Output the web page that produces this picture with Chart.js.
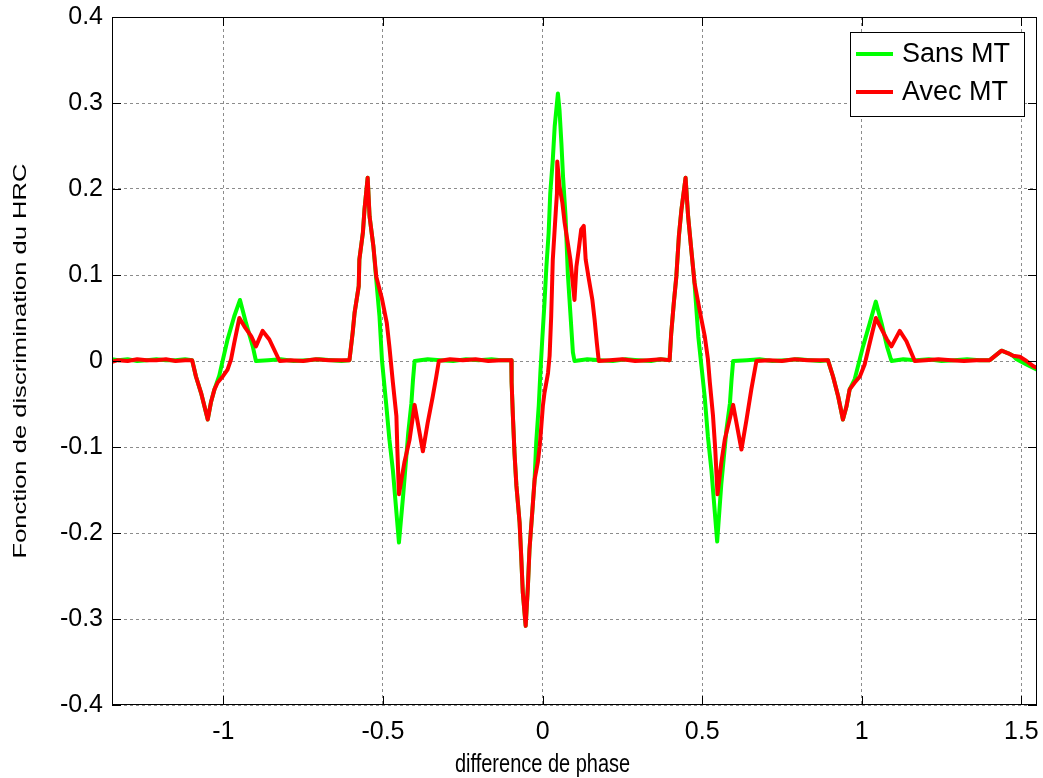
<!DOCTYPE html>
<html>
<head>
<meta charset="utf-8">
<script src="https://cdn.jsdelivr.net/npm/chart.js@4.4.1/dist/chart.umd.min.js"></script>
<style>
  html, body { margin: 0; padding: 0; background: #fff; }
  #wrap { width: 1043px; height: 778px; }
</style>
</head>
<body>
<div id="wrap"><canvas id="hrc" width="1043" height="778"></canvas></div>
<script>
// axes
const xRange = [-1.349, 1.549];
const yRange = [-0.4, 0.4];
const xTicks = [-1, -0.5, 0, 0.5, 1, 1.5];
const yTicks = [-0.4, -0.3, -0.2, -0.1, 0, 0.1, 0.2, 0.3, 0.4];

const seriesNames = ["Sans MT", "Avec MT"];
const xTitle = "difference de phase";
const yTitle = "Fonction de discrimination du HRC";

// Sans MT (vert)
const sansX = [
  -1.349, -1.33, -1.30, -1.27, -1.24, -1.21, -1.18, -1.15, -1.12, -1.098,
  -1.086, -1.070, -1.049, -1.039, -1.028, -1.013, -0.987, -0.966, -0.948, -0.929, -0.908, -0.898,
  -0.86, -0.82, -0.78, -0.74, -0.70, -0.66, -0.63, -0.605,
  -0.595, -0.589, -0.576, -0.574, -0.563, -0.558, -0.548, -0.542, -0.530, -0.521, -0.511, -0.503, -0.490, -0.480, -0.469, -0.450, -0.437, -0.421, -0.411, -0.406, -0.401,
  -0.36, -0.32, -0.28, -0.24, -0.20, -0.16, -0.13, -0.098,
  -0.097, -0.093, -0.088, -0.082, -0.072, -0.067, -0.062, -0.053, -0.046, -0.041, -0.032, -0.025, -0.020, -0.012, -0.007, -0.001, 0.006, 0.012, 0.019, 0.024, 0.032, 0.038, 0.048, 0.053, 0.059, 0.064, 0.072, 0.079, 0.087, 0.095, 0.100,
  0.14, 0.18, 0.22, 0.26, 0.30, 0.34, 0.37, 0.398,
  0.403, 0.411, 0.419, 0.427, 0.435, 0.448, 0.456, 0.466, 0.476, 0.488, 0.498, 0.508, 0.518, 0.529, 0.547, 0.560, 0.576, 0.587, 0.592, 0.597,
  0.64, 0.68, 0.72, 0.76, 0.80, 0.84, 0.87, 0.894,
  0.910, 0.926, 0.941, 0.952, 0.962, 0.978, 1.004, 1.025, 1.044, 1.062, 1.079, 1.093,
  1.13, 1.17, 1.21, 1.25, 1.29, 1.33, 1.37, 1.401,
  1.438, 1.459, 1.474, 1.485, 1.516, 1.549
];
const sansY = [
  0.002, 0.001, 0.002, 0.000, 0.001, 0.002, 0.001, 0.001, 0.002, 0.001,
  -0.018, -0.037, -0.068, -0.048, -0.033, -0.017, 0.025, 0.052, 0.071, 0.044, 0.017, 0.000,
  0.001, 0.002, 0.000, 0.001, 0.002, 0.001, 0.000, 0.001,
  0.033, 0.056, 0.087, 0.118, 0.149, 0.176, 0.213, 0.168, 0.133, 0.094, 0.052, 0.000, -0.050, -0.091, -0.127, -0.211, -0.157, -0.084, -0.049, -0.022, 0.000,
  0.002, 0.001, 0.000, 0.002, 0.001, 0.002, 0.001, 0.001,
  -0.025, -0.064, -0.107, -0.145, -0.188, -0.227, -0.269, -0.308, -0.262, -0.219, -0.174, -0.138, -0.095, -0.052, -0.014, 0.025, 0.068, 0.110, 0.149, 0.195, 0.234, 0.273, 0.311, 0.292, 0.253, 0.215, 0.168, 0.102, 0.056, 0.010, 0.000,
  0.002, 0.001, 0.000, 0.002, 0.001, 0.000, 0.002, 0.001,
  0.032, 0.067, 0.098, 0.145, 0.176, 0.213, 0.168, 0.129, 0.091, 0.028, -0.007, -0.042, -0.088, -0.127, -0.210, -0.143, -0.080, -0.049, -0.022, 0.000,
  0.001, 0.002, 0.000, 0.001, 0.002, 0.001, 0.000, 0.001,
  -0.018, -0.041, -0.068, -0.053, -0.033, -0.021, 0.017, 0.044, 0.069, 0.044, 0.017, 0.000,
  0.002, 0.001, 0.002, 0.000, 0.001, 0.002, 0.001, 0.001,
  0.012, 0.009, 0.006, 0.002, -0.004, -0.010
];

// Avec MT (rouge)
const avecX = [
  -1.349, -1.33, -1.30, -1.27, -1.24, -1.21, -1.18, -1.15, -1.12, -1.098,
  -1.086, -1.070, -1.049, -1.039, -1.028, -1.018, -1.002, -0.987, -0.976, -0.966, -0.950, -0.934, -0.913, -0.898, -0.877, -0.856, -0.824,
  -0.79, -0.75, -0.71, -0.67, -0.63, -0.605,
  -0.595, -0.589, -0.576, -0.574, -0.563, -0.558, -0.548, -0.542, -0.530, -0.521, -0.503, -0.488, -0.480, -0.469, -0.458, -0.455, -0.450, -0.433, -0.417, -0.401, -0.375, -0.360, -0.344, -0.333, -0.325,
  -0.29, -0.25, -0.21, -0.17, -0.13, -0.098,
  -0.097, -0.093, -0.088, -0.082, -0.072, -0.067, -0.062, -0.053, -0.046, -0.041, -0.032, -0.025, -0.015, -0.009, -0.004, 0.001, 0.006, 0.017, 0.022, 0.027, 0.032, 0.041, 0.045, 0.046, 0.053, 0.062, 0.069, 0.079, 0.087, 0.100, 0.106, 0.113, 0.121, 0.129, 0.135, 0.145, 0.156, 0.163, 0.170, 0.176,
  0.21, 0.25, 0.29, 0.33, 0.37, 0.398,
  0.403, 0.411, 0.419, 0.427, 0.435, 0.448, 0.456, 0.466, 0.476, 0.492, 0.508, 0.518, 0.524, 0.534, 0.541, 0.548, 0.560, 0.571, 0.597, 0.623, 0.639, 0.654, 0.670,
  0.71, 0.75, 0.79, 0.83, 0.87, 0.894,
  0.910, 0.926, 0.941, 0.952, 0.962, 0.978, 0.994, 1.009, 1.025, 1.044, 1.062, 1.079, 1.093, 1.119, 1.140, 1.166,
  1.20, 1.24, 1.28, 1.32, 1.36, 1.401,
  1.438, 1.459, 1.474, 1.495, 1.516, 1.537, 1.549
];
const avecY = [
  -0.001, 0.001, 0.000, 0.002, 0.001, 0.001, 0.002, 0.000, 0.001, 0.001,
  -0.018, -0.037, -0.068, -0.048, -0.033, -0.025, -0.018, -0.010, 0.002, 0.021, 0.050, 0.040, 0.029, 0.017, 0.035, 0.025, 0.000,
  0.001, 0.000, 0.002, 0.001, 0.001, 0.001,
  0.033, 0.056, 0.087, 0.118, 0.149, 0.176, 0.213, 0.168, 0.133, 0.098, 0.072, 0.044, 0.017, -0.025, -0.064, -0.103, -0.155, -0.118, -0.092, -0.051, -0.105, -0.072, -0.041, -0.018, 0.000,
  0.002, 0.001, 0.002, 0.000, 0.001, 0.001,
  -0.025, -0.064, -0.107, -0.145, -0.188, -0.227, -0.269, -0.308, -0.262, -0.219, -0.174, -0.138, -0.118, -0.099, -0.076, -0.052, -0.037, -0.014, 0.006, 0.052, 0.118, 0.172, 0.195, 0.232, 0.203, 0.184, 0.161, 0.137, 0.118, 0.071, 0.110, 0.129, 0.153, 0.157, 0.118, 0.095, 0.071, 0.048, 0.021, 0.000,
  0.001, 0.002, 0.000, 0.001, 0.002, 0.001,
  0.032, 0.067, 0.098, 0.145, 0.176, 0.213, 0.168, 0.129, 0.091, 0.059, 0.029, 0.002, -0.025, -0.064, -0.103, -0.155, -0.118, -0.091, -0.051, -0.103, -0.068, -0.033, 0.000,
  0.001, 0.000, 0.002, 0.001, 0.001, 0.001,
  -0.018, -0.041, -0.068, -0.053, -0.033, -0.025, -0.018, -0.004, 0.021, 0.050, 0.037, 0.025, 0.017, 0.035, 0.023, 0.000,
  0.001, 0.002, 0.001, 0.000, 0.001, 0.001,
  0.012, 0.009, 0.006, 0.005, 0.000, -0.006, -0.008
];

const toPts = (xs, ys) => xs.map((x, i) => ({ x: x, y: ys[i] }));

const FONT = "'Liberation Sans', Arial, Helvetica, sans-serif";

// boite, graduations interieures, titres d'axes et legende facon MATLAB
const matlabBox = {
  id: "matlabBox",
  afterDraw(chart) {
    const ctx = chart.ctx;
    const a = chart.chartArea;
    const sx = chart.scales.x;
    const sy = chart.scales.y;
    const tl = 9;
    ctx.save();
    ctx.strokeStyle = "#000";
    ctx.lineWidth = 1;
    ctx.beginPath();
    xTicks.forEach((v) => {
      const p = Math.round(sx.getPixelForValue(v)) + 0.5;
      ctx.moveTo(p, a.bottom); ctx.lineTo(p, a.bottom - tl);
      ctx.moveTo(p, a.top); ctx.lineTo(p, a.top + tl);
    });
    yTicks.forEach((v) => {
      const p = Math.round(sy.getPixelForValue(v)) + 0.5;
      ctx.moveTo(a.left, p); ctx.lineTo(a.left + tl, p);
      ctx.moveTo(a.right, p); ctx.lineTo(a.right - tl, p);
    });
    ctx.stroke();
    ctx.strokeRect(Math.round(a.left) + 0.5, Math.round(a.top) + 0.5,
      Math.round(a.right - a.left) - 1, Math.round(a.bottom - a.top) - 1);

    // titres (texte etire verticalement comme dans la figure)
    ctx.fillStyle = "#000";
    ctx.textAlign = "center";
    ctx.textBaseline = "alphabetic";
    ctx.save();
    ctx.translate(sx.getPixelForValue(0), 772);
    ctx.scale(1, 1.3);
    ctx.font = "20px " + FONT;
    ctx.fillText(xTitle, 0, 0);
    ctx.restore();

    ctx.save();
    ctx.translate(26, (a.top + a.bottom) / 2);
    ctx.scale(1, 1.42);
    ctx.rotate(-Math.PI / 2);
    ctx.font = "18px " + FONT;
    ctx.fillText(yTitle, 0, 0);
    ctx.restore();

    // legende
    const lx = 850, ly = 32, lw = 174, lh = 84;
    ctx.fillStyle = "#fff";
    ctx.fillRect(lx, ly, lw, lh);
    ctx.strokeRect(lx + 0.5, ly + 0.5, lw, lh);
    const rows = [54, 92];
    chart.data.datasets.forEach((ds, i) => {
      const y = rows[i];
      ctx.strokeStyle = ds.borderColor;
      ctx.lineWidth = 4;
      ctx.beginPath();
      ctx.moveTo(lx + 6, y); ctx.lineTo(lx + 43, y);
      ctx.stroke();
      ctx.fillStyle = "#000";
      ctx.font = "27px " + FONT;
      ctx.textBaseline = "middle";
      ctx.textAlign = "left";
      ctx.fillText(ds.label, lx + 52, y + 1);
    });
    ctx.restore();
  }
};

new Chart(document.getElementById("hrc"), {
  type: "line",
  data: {
    datasets: [
      { label: seriesNames[0], data: toPts(sansX, sansY), borderColor: "#00ff00", order: 2 },
      { label: seriesNames[1], data: toPts(avecX, avecY), borderColor: "#ff0000", order: 1 },
    ],
  },
  options: {
    responsive: false,
    animation: false,
    events: [],
    layout: { padding: { top: 17, right: 6, left: 0, bottom: 0 } },
    elements: {
      line: { borderWidth: 4, tension: 0, borderJoinStyle: "round", borderCapStyle: "round", fill: false },
      point: { radius: 0 },
    },
    plugins: { legend: { display: false }, tooltip: { enabled: false } },
    scales: {
      x: {
        type: "linear",
        min: xRange[0],
        max: xRange[1],
        afterBuildTicks: (s) => { s.ticks = xTicks.map((v) => ({ value: v })); },
        afterFit: (s) => { s.height = 73; s.paddingLeft = 0; s.paddingRight = 0; },
        ticks: {
          autoSkip: false, maxRotation: 0, padding: 12, color: "#000",
          font: { family: FONT, size: 25 },
          callback: (v) => String(v),
        },
        grid: { color: "rgba(0,0,0,0.45)", lineWidth: 1, drawTicks: false },
        border: { display: false, dash: [3, 3] },
      },
      y: {
        type: "linear",
        min: yRange[0],
        max: yRange[1],
        afterBuildTicks: (s) => { s.ticks = yTicks.map((v) => ({ value: v })); },
        afterFit: (s) => { s.width = 112; s.paddingTop = 0; s.paddingBottom = 0; },
        ticks: {
          padding: 9, color: "#000",
          font: { family: FONT, size: 25 },
          callback: (v) => (Math.abs(v) < 1e-9 ? "0" : v.toFixed(1)),
        },
        grid: { color: "rgba(0,0,0,0.45)", lineWidth: 1, drawTicks: false },
        border: { display: false, dash: [3, 3] },
      },
    },
  },
  plugins: [matlabBox],
});
</script>
</body>
</html>
